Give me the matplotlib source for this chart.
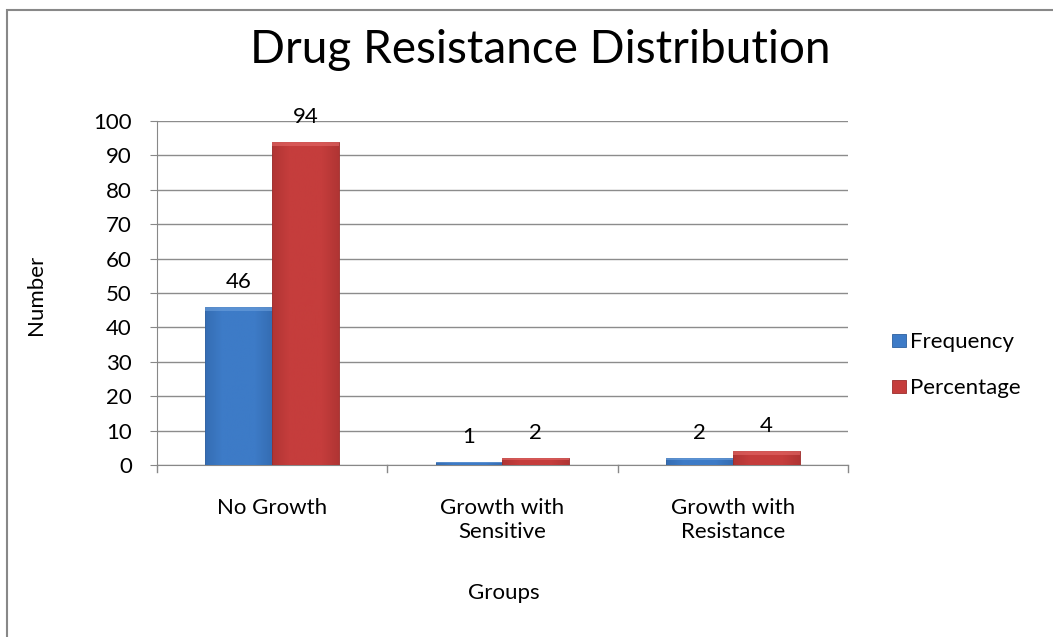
import numpy as np
import matplotlib
matplotlib.use("Agg")
import matplotlib.pyplot as plt
from matplotlib.patches import Rectangle
from matplotlib.colors import LinearSegmentedColormap

plt.rcParams['font.family'] = ['Lato', 'DejaVu Sans']

categories = ["No Growth", "Growth with\nSensitive", "Growth with\nResistance"]
frequency = [46, 1, 2]
percentage = [94, 2, 4]
y_ticks = list(range(0, 101, 10))

fig = plt.figure(figsize=(10.53, 6.37), dpi=100)
ax = fig.add_axes([0.1491, 0.2700, 0.6562, 0.5400])

x = np.arange(len(categories))
w = 0.29

def bevel_bars(xs, vals, color, dark, light):
    cmap = LinearSegmentedColormap.from_list("b", [dark, color, color, color, dark])
    grad = np.linspace(0, 1, 64).reshape(1, -1)
    bars = ax.bar(xs, vals, width=w, color=color, edgecolor=dark, linewidth=0.6, zorder=3)
    for b in bars:
        x0, y0 = b.get_x(), b.get_y()
        bw, bh = b.get_width(), b.get_height()
        im = ax.imshow(grad, cmap=cmap, aspect='auto', extent=[x0, x0 + bw, y0, y0 + bh],
                       zorder=3, alpha=0.5)
        im.set_clip_path(b)
        # lighter top bevel
        th = min(1.2, bh * 0.3)
        ax.add_patch(Rectangle((x0, y0 + bh - th), bw, th,
                               color=light, alpha=0.6, zorder=4, linewidth=0))
    return bars

bevel_bars(x - w / 2, frequency, "#3D7BC7", "#2C5F9F", "#6FA2DE")
bevel_bars(x + w / 2, percentage, "#C53D3C", "#9C2C2B", "#E46A68")

ax.set_xlim(-0.5, 2.5)
ax.set_ylim(0, 100)
ax.set_yticks(y_ticks)
ax.set_yticklabels([str(t) for t in y_ticks], fontsize=16)
ax.set_xticks(x)
ax.set_xticklabels(categories, fontsize=16, linespacing=1.25)
ax.tick_params(axis='x', length=0, pad=24)
ax.tick_params(axis='y', length=5, color="#888888", pad=13)
for t in [0.5, 1.5, 2.5, -0.5]:
    ax.plot([t, t], [0, -2], color="#888888", lw=1, clip_on=False, zorder=2)

ax.grid(axis='y', color="#8c8c8c", linewidth=1, zorder=0)
ax.set_axisbelow(True)
for s in ['top', 'right']:
    ax.spines[s].set_visible(False)
for s in ['left', 'bottom']:
    ax.spines[s].set_color("#888888")

for xi, v in zip(x - w / 2, frequency):
    ax.text(xi, v + 4.3, str(v), ha='center', va='bottom', fontsize=16)
for xi, v in zip(x + w / 2, percentage):
    ax.text(xi, v + 4.3, str(v), ha='center', va='bottom', fontsize=16)

ax.set_ylim(0, 100)
ax.set_xlim(-0.5, 2.5)

fig.text(0.513, 0.922, "Drug Resistance Distribution", ha='center', va='center', fontsize=33)
fig.text(0.034, 0.537, "Number", rotation=90, ha='center', va='center', fontsize=16)
fig.text(0.478, 0.069, "Groups", ha='center', va='center', fontsize=16)

# legend
fig.patches.append(Rectangle((0.8475, 0.455), 0.0125, 0.0205, transform=fig.transFigure,
                             facecolor="#3D7BC7", edgecolor="#2C5F9F", lw=0.6))
fig.patches.append(Rectangle((0.8475, 0.383), 0.0125, 0.0205, transform=fig.transFigure,
                             facecolor="#C53D3C", edgecolor="#9C2C2B", lw=0.6))
fig.text(0.864, 0.463, "Frequency", ha='left', va='center', fontsize=16)
fig.text(0.864, 0.391, "Percentage", ha='left', va='center', fontsize=16)

# chart frame
fig.patches.append(Rectangle((7 / 1053, -0.05), 1.05, 1 - 10 / 637 + 0.05, transform=fig.transFigure,
                             fill=False, edgecolor="#888888", lw=1.5))

fig.savefig("out.png", dpi=100)
